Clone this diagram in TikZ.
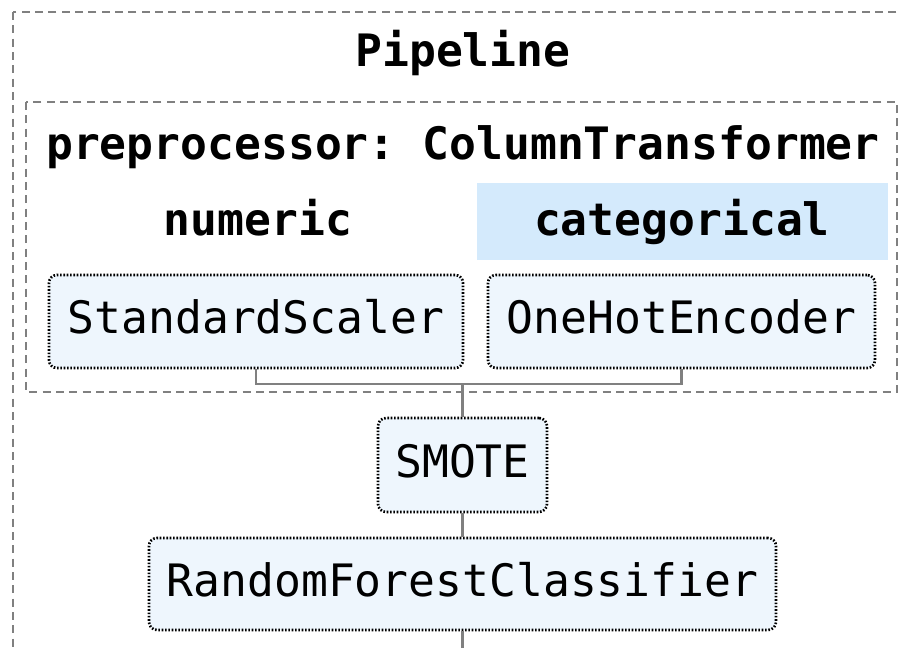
\documentclass[tikz,border=0pt]{standalone}
\usepackage{fontspec}
\setmonofont{DejaVu Sans Mono}
\usetikzlibrary{positioning}

\definecolor{boxblue}{HTML}{EEF6FD}
\definecolor{catblue}{HTML}{D4EAFC}
\definecolor{framegray}{HTML}{808080}
\newcommand{\diagfont}{\fontsize{33.5}{40}\selectfont\ttfamily}

\tikzset{every picture/.style={line width=0.75pt}}
\tikzset{
  frame/.style={draw=framegray, line width=1.7pt, dash pattern=on 6pt off 4pt},
  estimator/.style={draw=black, fill=boxblue, line width=2pt, dash pattern=on 1.2pt off 1.3pt,
    rounded corners=6pt, inner sep=0pt, font=\diagfont, text height=24pt, text depth=6pt},
  heading/.style={font=\diagfont\bfseries, inner sep=0pt, text height=24pt, text depth=6pt},
  link/.style={draw=framegray, line width=2pt},
}

\begin{document}
\begin{tikzpicture}[x=0.75pt,y=0.75pt,yscale=-1,xscale=1]
	\useasboundingbox (0,0) rectangle (899,647);
	\clip (0,0) rectangle (899,647);

	%Shape: Rectangle (pipeline)
	\draw [frame] (13,12) rectangle (920,680) ;
	%Shape: Rectangle (column transformer)
	\draw [frame] (26,102) rectangle (897,392) ;
	%Shape: Rectangle (categorical highlight)
	\fill [catblue] (477,183) rectangle (888,260) ;

	% Text Node
	\node [heading] (pipe) at (463,54) {Pipeline};
	% Text Node
	\node [heading] (prep) at (463,147) {preprocessor: ColumnTransformer};
	% Text Node
	\node [heading] (num) at (258,223) {numeric};
	% Text Node
	\node [heading] (cat) at (682,223) {categorical};

	% Estimators
	\node [estimator, minimum width=310.5pt, minimum height=69.75pt] (scaler) at (256,321.5) {StandardScaler};
	\node [estimator, minimum width=290.25pt, minimum height=69.75pt] (onehot) at (681.5,321.5) {OneHotEncoder};
	\node [estimator, minimum width=126.75pt, minimum height=70.5pt] (smote) at (462.5,465) {SMOTE};
	\node [estimator, minimum width=470.25pt, minimum height=69pt] (forest) at (462.5,584) {RandomForestClassifier};

	%Straight Lines
	\coordinate (join) at (462.5,384);
	\coordinate (out) at (462.5,660);
	\draw [link] (scaler.south) |- (join) -| (onehot.south) ;
	\draw [link] (join) -- (smote.north) ;
	\draw [link] (smote.south) -- (forest.north) ;
	\draw [link] (forest.south) -- (out) ;

\end{tikzpicture}
\end{document}
